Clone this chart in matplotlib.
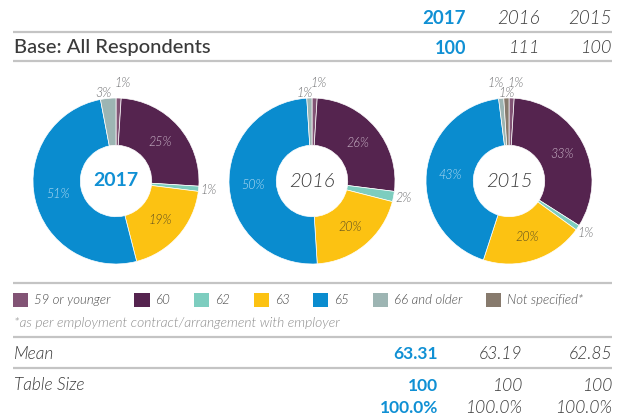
import numpy as np
import matplotlib
matplotlib.use("Agg")
import matplotlib.pyplot as plt
from matplotlib.patches import Patch

plt.rcParams['font.family'] = ['Lato', 'DejaVu Sans']

# ---------------- data ----------------
categories = ['59 or younger', '60', '62', '63', '65', '66 and older', 'Not specified*']
years = ['2017', '2016', '2015']
vals_2017 = [1, 25, 1, 19, 51, 3, 0]
vals_2016 = [1, 26, 2, 20, 50, 1, 0]
vals_2015 = [1, 33, 1, 20, 43, 1, 1]
bases = ['100', '111', '100']
means = ['63.31', '63.19', '62.85']
table_size = ['100', '100', '100']
table_pct = ['100.0%', '100.0%', '100.0%']
footnote = '*as per employment contract/arrangement with employer'

# ---------------- style ----------------
colors = ['#825475', '#55244f', '#7dcdbf', '#fcc212', '#0a8ccf', '#9db5b3', '#877a6d']
inner_label_colors = ['#ffffff', '#c9b4c7', '#ffffff', '#5c4e22', '#b3dcf3', '#ffffff', '#ffffff']
BLUE = '#1090d4'
DARK = '#3a3a3a'
GRAY = '#6d6e70'
LINE = '#c4c4c4'
LIGHT = 300

W, H = 625, 419
fig = plt.figure(figsize=(W / 100, H / 100), dpi=100)
bg = fig.add_axes([0, 0, 1, 1])
bg.set_xlim(0, W)
bg.set_ylim(H, 0)
bg.axis('off')

def hline(y):
    bg.plot([13, 612], [y, y], color=LINE, lw=1.6, solid_capstyle='butt')

# header table
hdr_right = [466, 540, 612]
for i, yr in enumerate(years):
    if i == 0:
        kw = dict(color=BLUE, fontweight='bold')
    else:
        kw = dict(color=DARK, style='italic', fontweight=LIGHT)
    bg.text(hdr_right[i], 18, yr, ha='right', va='center', fontsize=13.5, **kw)
    bg.text(hdr_right[i], 48, bases[i], ha='right', va='center', fontsize=13, **kw)
hline(32)
bg.text(14, 48, 'Base: All Respondents', ha='left', va='center', fontsize=14.5, color=DARK, fontweight='medium')
hline(61)

# donuts
centers = [(116, 181), (312, 181), (509, 181)]
R = 83.0
L = 1.35
all_vals = [vals_2017, vals_2016, vals_2015]
for k, (vals, (cx, cy)) in enumerate(zip(all_vals, centers)):
    side = 2 * L * R
    ax = fig.add_axes([(cx - L * R) / W, 1 - (cy + L * R) / H, side / W, side / H])
    idx = [i for i, v in enumerate(vals) if v > 0]
    v = [vals[i] for i in idx]
    c = [colors[i] for i in idx]
    wedges, _ = ax.pie(v, colors=c, startangle=90, counterclock=False, radius=1,
                       wedgeprops=dict(width=0.57, edgecolor='white', linewidth=0.5))
    ax.set_xlim(-L, L)
    ax.set_ylim(-L, L)
    ax.set_aspect('equal')
    ax.axis('off')
    mids = [np.deg2rad((w.theta1 + w.theta2) / 2) for w in wedges]
    top = [j for j in range(len(v)) if v[j] < 5 and np.sin(mids[j]) > 0.96]
    top_sorted = sorted(top, key=lambda j: -np.cos(mids[j]))
    for j in range(len(v)):
        m = mids[j]
        txt = f'{v[j]}%'
        if v[j] >= 5:
            r = 0.715
            ax.text(r * np.cos(m), r * np.sin(m), txt, ha='center', va='center',
                    fontsize=9, style='italic', fontweight=LIGHT, color=inner_label_colors[idx[j]])
        else:
            dx = 0.0
            if j in top_sorted:
                p = top_sorted.index(j)
                r = 1.18 if p % 2 == 0 else 1.06
                if not (len(top_sorted) == 3 and p == 1):
                    dx = np.sign(np.cos(m)) * 0.05
            else:
                r = 1.12
            ax.text(r * np.cos(m) + dx, r * np.sin(m), txt, ha='center', va='center',
                    fontsize=9, style='italic', fontweight=LIGHT, color=GRAY, clip_on=False)
    if k == 0:
        ax.text(0, 0, years[k], ha='center', va='center', fontsize=14, color=BLUE, fontweight='bold')
    else:
        ax.text(0, 0, years[k], ha='center', va='center', fontsize=14.5, color=DARK,
                style='italic', fontweight=LIGHT)

hline(283)

# legend
handles = [Patch(facecolor=colors[i], edgecolor='none', label=categories[i]) for i in range(len(categories))]
fs = 9.5
leg = fig.legend(handles=handles, loc='center left', bbox_to_anchor=(13 / W, 1 - 300 / H),
                 ncol=len(categories), frameon=False, fontsize=fs, borderpad=0, borderaxespad=0,
                 handlelength=1.15, handleheight=1.35, handletextpad=0.45, columnspacing=1.8)
for t in leg.get_texts():
    t.set_fontstyle('italic')
    t.set_color('#4a4a4a')
    t.set_fontweight(LIGHT)

bg.text(14, 323, footnote, ha='left', va='center', fontsize=10, style='italic', color='#8a8a8a', fontweight=LIGHT)

hline(337)
bot_right = [438, 522, 612]
bg.text(14, 354, 'Mean', ha='left', va='center', fontsize=12.5, style='italic', color=DARK, fontweight=LIGHT)
hline(368)
bg.text(14, 385, 'Table Size', ha='left', va='center', fontsize=12.5, style='italic', color=DARK, fontweight=LIGHT)
for i in range(3):
    if i == 0:
        kw = dict(color=BLUE, fontweight='bold')
    else:
        kw = dict(color=DARK, style='italic', fontweight=LIGHT)
    bg.text(bot_right[i], 354, means[i], ha='right', va='center', fontsize=12.5, **kw)
    bg.text(bot_right[i], 386, table_size[i], ha='right', va='center', fontsize=12.5, **kw)
    bg.text(bot_right[i], 408, table_pct[i], ha='right', va='center', fontsize=12.5, **kw)

fig.savefig('out.png', dpi=100)
